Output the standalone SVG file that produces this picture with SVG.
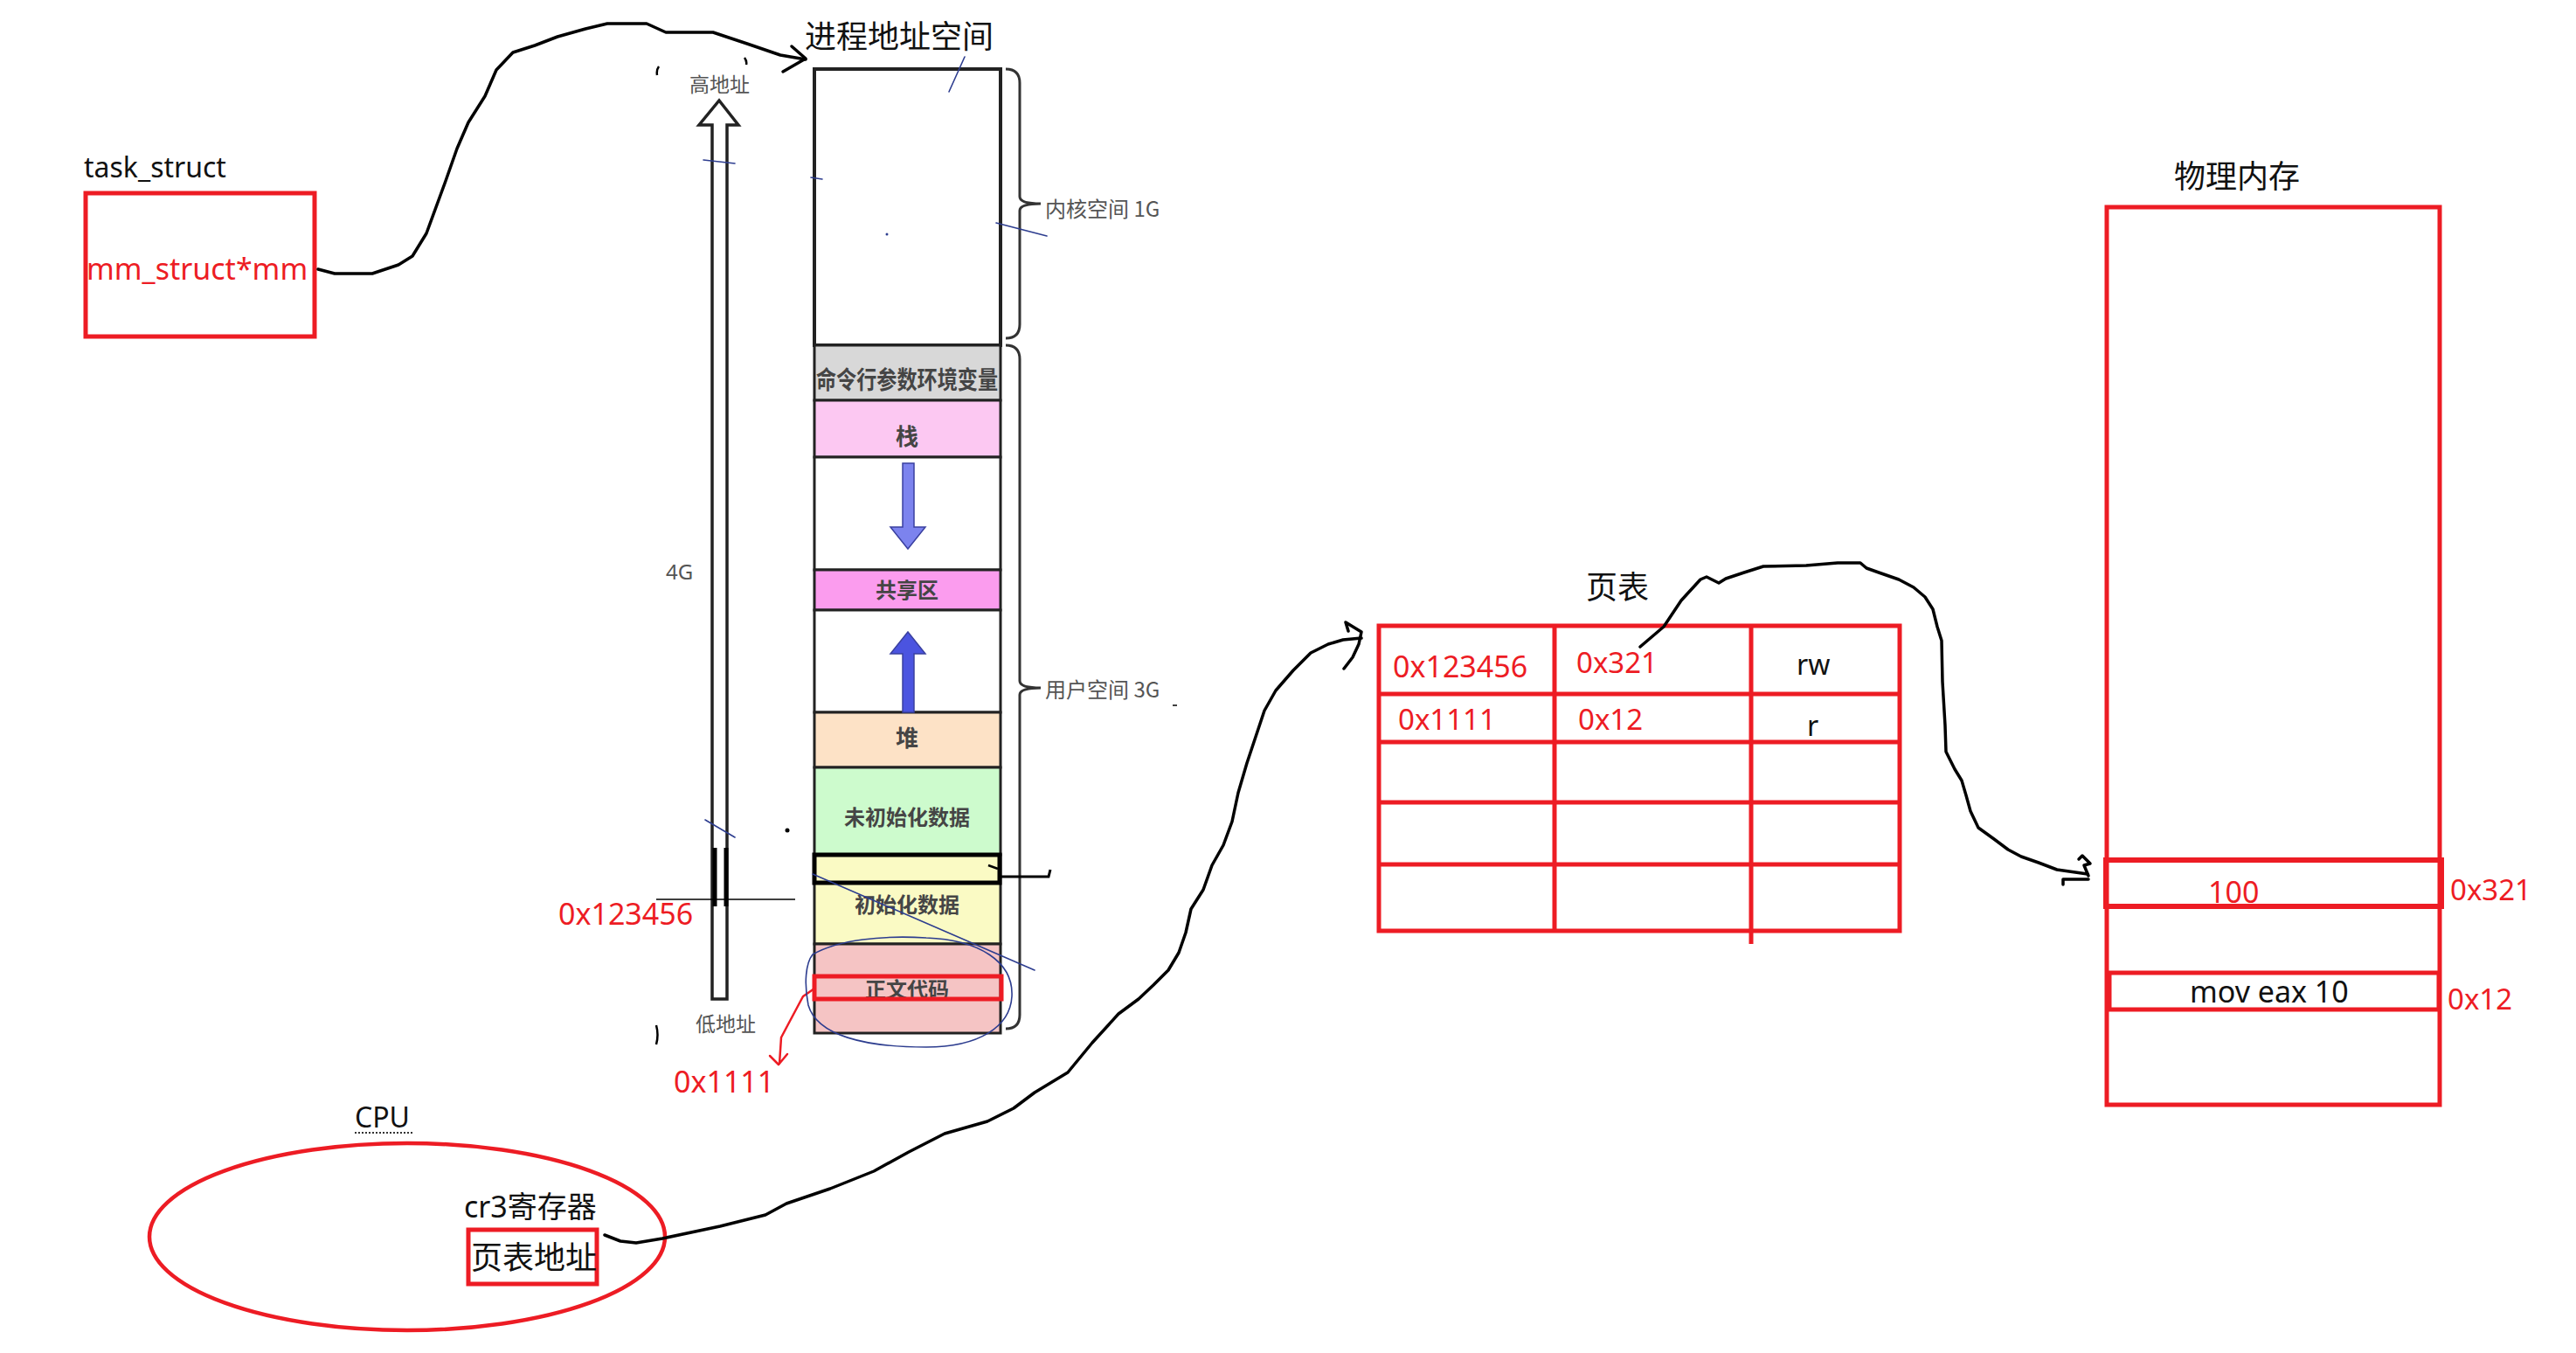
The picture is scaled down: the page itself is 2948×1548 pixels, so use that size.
<svg xmlns="http://www.w3.org/2000/svg" width="2948" height="1548" viewBox="0 0 2948 1548">
<style>
.lat{font-family:"Noto Sans","Noto Sans CJK SC",sans-serif}
.cjk{font-family:"Noto Sans CJK SC","Noto Sans",sans-serif}
.blk{fill:#111}
.red{fill:#ed1c24}
.gry{fill:#555}
.inner{fill:#454545;font-weight:700}
.rbox{fill:none;stroke:#ed1c24;stroke-width:5}
.seg{stroke:#222;stroke-width:3}
.hand{fill:none;stroke:#000;stroke-width:3.5;stroke-linejoin:round;stroke-linecap:round}
.blue{fill:none;stroke:#2d3d8f;stroke-width:1.6;stroke-linecap:round}
</style>
<rect width="2948" height="1548" fill="#fff"/>

<g id="task_struct">
<text class="lat blk" x="96" y="203" font-size="32">task_struct</text>
<rect class="rbox" x="98" y="221" width="262" height="164"/>
<text class="lat red" x="99" y="320" font-size="34">mm_struct*mm</text>
</g>

<g id="process-space">
<text class="cjk blk" x="921" y="55" font-size="36">进程地址空间</text>
<text class="cjk gry" x="789" y="105" font-size="23">高地址</text>
<text class="lat gry" x="762" y="663" font-size="24">4G</text>
<text class="cjk gry" x="796" y="1180" font-size="23">低地址</text>
<path d="M815,1143 L815,143 L800,143 L823,115 L845,143 L832,143 L832,1143 Z" fill="#fff" stroke="#222" stroke-width="3.5" stroke-linejoin="miter"/>
<g class="seg">
<rect x="932" y="79" width="213" height="316" fill="#fff" stroke-width="4"/>
<rect x="932" y="395" width="213" height="63" fill="#d8d8d8"/>
<rect x="932" y="458" width="213" height="65" fill="#fcc8f2"/>
<rect x="932" y="523" width="213" height="129" fill="#fff"/>
<rect x="932" y="652" width="213" height="46" fill="#fb9cee"/>
<rect x="932" y="698" width="213" height="117" fill="#fff"/>
<rect x="932" y="815" width="213" height="63" fill="#fde2c6"/>
<rect x="932" y="878" width="213" height="100" fill="#cdfbcd"/>
<rect x="932" y="978" width="213" height="102" fill="#fafac4"/>
<rect x="932" y="1080" width="213" height="102" fill="#f5c4c4"/>
</g>
<text class="cjk inner" x="1038" y="445" font-size="28" text-anchor="middle" textLength="208" lengthAdjust="spacingAndGlyphs">命令行参数环境变量</text>
<text class="cjk inner" x="1038" y="509" font-size="26" text-anchor="middle">栈</text>
<text class="cjk inner" x="1038" y="684" font-size="24" text-anchor="middle">共享区</text>
<text class="cjk inner" x="1038" y="854" font-size="26" text-anchor="middle">堆</text>
<text class="cjk inner" x="1038" y="944" font-size="24" text-anchor="middle">未初始化数据</text>
<text class="cjk inner" x="1038" y="1044" font-size="24" text-anchor="middle">初始化数据</text>
<text class="cjk inner" x="1038" y="1141" font-size="24" text-anchor="middle">正文代码</text>
<path d="M1033,530 L1046,530 L1046,603 L1059,603 L1039,628 L1019,603 L1033,603 Z" fill="#7c83ee" stroke="#3a40a0" stroke-width="1.5"/>
<path d="M1033,815 L1033,748 L1019,748 L1039,723 L1059,748 L1046,748 L1046,815 Z" fill="#4b54e0" stroke="#3a40a0" stroke-width="1.5"/>
<path d="M1151,79 Q1167,79 1167,95 L1167,225 Q1167,233 1191,233 Q1167,233 1167,241 L1167,371 Q1167,387 1151,387" fill="none" stroke="#333" stroke-width="3"/>
<path d="M1151,395 Q1167,395 1167,411 L1167,779 Q1167,787 1191,787 Q1167,787 1167,795 L1167,1161 Q1167,1177 1151,1177" fill="none" stroke="#333" stroke-width="3"/>
<text class="cjk gry" x="1196" y="248" font-size="24">内核空间 1G</text>
<text class="cjk gry" x="1196" y="798" font-size="24">用户空间 3G</text>
<rect x="932" y="978" width="212" height="32" fill="none" stroke="#000" stroke-width="5"/>
<rect class="rbox" x="932" y="1117" width="214" height="26"/>
<path d="M1144,1003 L1200,1003 L1202,995" fill="none" stroke="#000" stroke-width="3"/>
<path d="M1131,990 L1142,994" fill="none" stroke="#000" stroke-width="2.5"/>
<path d="M818,970 L818,1037 M831,970 L831,1037" stroke="#000" stroke-width="5"/>
<line x1="751" y1="1029" x2="910" y2="1029" stroke="#000" stroke-width="1.5"/>
<circle cx="901" cy="950" r="2.5" fill="#000"/>
<text class="lat red" x="639" y="1058" font-size="34">0x123456</text>
<text class="lat red" x="771" y="1250" font-size="34">0x1111</text>
<path d="M932,1131 L919,1140 L903,1170 L894,1187 L892,1217 M881,1208 L891,1218 L901,1206" fill="none" stroke="#ed1c24" stroke-width="2.5" stroke-linecap="round" stroke-linejoin="round"/>
<path class="blue" d="M1104,65 L1086,105 M805,183 L841,187 M928,203 L941,205 M1140,255 L1198,270 M807,938 L841,958 M930,1000 L1184,1110"/>
<circle cx="1015" cy="268" r="1.5" fill="#2d3d8f"/>
<path class="blue" d="M930,1092 C960,1075 1010,1070 1060,1073 C1120,1075 1160,1100 1158,1140 C1156,1175 1120,1198 1060,1198 C990,1198 935,1185 925,1150 C920,1125 922,1102 930,1092 Z"/>
<path d="M754,76 Q751,80 752,86 M852,66 Q855,70 854,74 M751,1173 Q754,1184 751,1195" fill="none" stroke="#000" stroke-width="2.5"/>
</g>

<g id="page-table">
<text class="cjk blk" x="1815" y="685" font-size="36">页表</text>
<g class="rbox">
<rect x="1578" y="716" width="596" height="349"/>
<line x1="1578" y1="794" x2="2174" y2="794"/>
<line x1="1578" y1="849" x2="2174" y2="849"/>
<line x1="1578" y1="918" x2="2174" y2="918"/>
<line x1="1578" y1="989" x2="2174" y2="989"/>
<line x1="1779" y1="716" x2="1779" y2="1065"/>
<line x1="2004" y1="716" x2="2004" y2="1080"/>
</g>
<text class="lat red" x="1594" y="775" font-size="34">0x123456</text>
<text class="lat red" x="1804" y="770" font-size="33">0x321</text>
<text class="lat blk" x="2056" y="772" font-size="32">rw</text>
<text class="lat red" x="1600" y="835" font-size="33">0x1111</text>
<text class="lat red" x="1806" y="835" font-size="33">0x12</text>
<text class="lat blk" x="2068" y="842" font-size="32">r</text>
</g>

<g id="physical-memory">
<text class="cjk blk" x="2488" y="215" font-size="36">物理内存</text>
<rect class="rbox" x="2411" y="237" width="381" height="1027"/>
<rect x="2410" y="984" width="384" height="53" fill="none" stroke="#ed1c24" stroke-width="6"/>
<rect class="rbox" x="2414" y="1113" width="377" height="42"/>
<text class="lat red" x="2527" y="1033" font-size="34">100</text>
<text class="lat blk" x="2506" y="1147" font-size="34">mov eax 10</text>
<text class="lat red" x="2804" y="1030" font-size="33">0x321</text>
<text class="lat red" x="2801" y="1155" font-size="33">0x12</text>
</g>

<g id="cpu">
<text class="lat blk" x="406" y="1290" font-size="32">CPU</text>
<line x1="406" y1="1296" x2="472" y2="1296" stroke="#333" stroke-width="2" stroke-dasharray="2,2"/>
<ellipse cx="466" cy="1415" rx="295" ry="107" fill="none" stroke="#ed1c24" stroke-width="4.5"/>
<text class="lat blk" x="531" y="1393" font-size="34">cr3寄存器</text>
<rect class="rbox" x="536" y="1407" width="147" height="62"/>
<text class="cjk blk" x="539" y="1452" font-size="36">页表地址</text>
</g>

<g id="connectors">
<polyline class="hand" points="364,308 383,313 426,313 456,303 472,293 488,267 510,207 523,170 536,140 555,110 568,80 587,60 612,52 638,42 670,33 695,27 740,27 762,37 816,37 855,50 893,63 922,68"/>
<polyline class="hand" points="906,53 922,67 896,82"/>
<polyline class="hand" points="692,1413 710,1420 728,1422 758,1417 824,1403 876,1390 900,1377 950,1360 1000,1340 1040,1318 1081,1297 1130,1283 1160,1268 1184,1250 1222,1227 1250,1193 1280,1160 1303,1143 1320,1127 1337,1110 1349,1090 1357,1067 1363,1040 1377,1018 1387,990 1400,967 1410,940 1417,907 1427,873 1437,843 1447,813 1460,790 1480,767 1500,747 1520,737 1537,732 1558,730"/>
<polyline class="hand" points="1543,722 1540,712 1558,723 1555,737 1548,752 1538,765"/>
<polyline class="hand" points="1877,740 1904,717 1924,687 1946,663 1953,660 1967,667 1975,662 1996,655 2018,648 2067,647 2103,644 2129,644 2136,650 2150,655 2173,663 2190,672 2203,683 2212,697 2217,717 2222,733 2223,780 2226,830 2227,860 2237,880 2245,893 2250,910 2255,928 2264,947 2282,960 2298,972 2313,980 2333,987 2354,995 2389,1000"/>
<polyline class="hand" points="2379,983 2383,979 2392,988 2385,990 2390,1002"/>
<polyline class="hand" points="2361,1012 2361,1006 2390,1006"/>
<line x1="1342" y1="807" x2="1347" y2="807" stroke="#000" stroke-width="1.5"/>
</g>
</svg>
